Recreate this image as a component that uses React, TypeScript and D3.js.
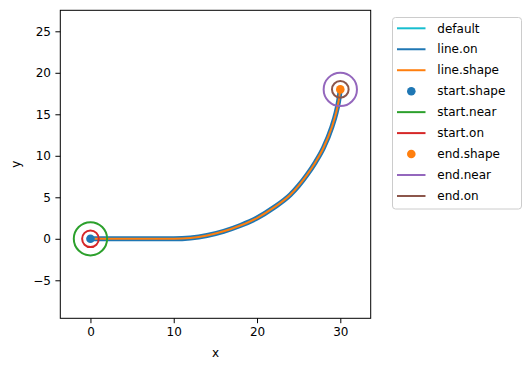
import React, { useEffect, useRef } from 'react';
import * as d3 from 'd3';

// path (x, y in data units)
const pathX = [0, 5, 10, 12, 14, 16, 18, 20, 22, 24, 25, 26, 27, 28, 29, 29.5, 29.8, 30];
const pathY = [0, 0, 0, 0.1, 0.4, 0.9, 1.6, 2.5, 3.75, 5.3, 6.4, 7.7, 9.2, 11.0, 13.5, 15.2, 16.6, 18.0];

const startPoint = [0, 0];
const endPoint = [30, 18];
const nearRadius = 2;
const onRadius = 1;

const xTicks = [0, 10, 20, 30];
const yTicks = [-5, 0, 5, 10, 15, 20, 25];

const legendLabels = ['default', 'line.on', 'line.shape', 'start.shape', 'start.near', 'start.on', 'end.shape', 'end.near', 'end.on'];
const legendKinds = ['line', 'line', 'line', 'dot', 'line', 'line', 'dot', 'line', 'line'];
const legendColors = ['#17becf', '#1f77b4', '#ff7f0e', '#1f77b4', '#2ca02c', '#d62728', '#ff7f0e', '#9467bd', '#8c564b'];

const W = 530;
const H = 371;
const FONT = 'DejaVu Sans, sans-serif';

export default function App() {
  const svgRef = useRef<SVGSVGElement>(null);

  useEffect(() => {
    if (!svgRef.current) return;
    const svg = d3.select(svgRef.current);
    svg.selectAll('*').remove();

    const plot = { left: 60.3, right: 370.7, top: 10.3, bottom: 318.3 };

    const x = d3.scaleLinear().domain([-3.62, 33.65]).range([plot.left, plot.right]);
    const y = d3.scaleLinear().domain([-9.58, 27.53]).range([plot.bottom, plot.top]);

    const pts = pathX.map((v, i) => [v, pathY[i]] as [number, number]);
    const line = d3.line<[number, number]>()
      .x(d => x(d[0]))
      .y(d => y(d[1]))
      .curve(d3.curveMonotoneX);

    const g = svg.append('g');

    // Lines
    g.append('path').attr('d', line(pts)).attr('fill', 'none')
      .attr('stroke', '#17becf').attr('stroke-width', 1.5);
    g.append('path').attr('d', line(pts)).attr('fill', 'none')
      .attr('stroke', '#1f77b4').attr('stroke-width', 5).attr('stroke-linecap', 'round');
    g.append('path').attr('d', line(pts)).attr('fill', 'none')
      .attr('stroke', '#ff7f0e').attr('stroke-width', 2);

    const pxPerUnit = x(1) - x(0);

    // start markers
    g.append('circle').attr('cx', x(startPoint[0])).attr('cy', y(startPoint[1])).attr('r', 4.3)
      .attr('fill', '#1f77b4');
    g.append('circle').attr('cx', x(startPoint[0])).attr('cy', y(startPoint[1])).attr('r', nearRadius * pxPerUnit)
      .attr('fill', 'none').attr('stroke', '#2ca02c').attr('stroke-width', 2);
    g.append('circle').attr('cx', x(startPoint[0])).attr('cy', y(startPoint[1])).attr('r', onRadius * pxPerUnit)
      .attr('fill', 'none').attr('stroke', '#d62728').attr('stroke-width', 2);

    // end markers
    g.append('circle').attr('cx', x(endPoint[0])).attr('cy', y(endPoint[1])).attr('r', 4.3)
      .attr('fill', '#ff7f0e');
    g.append('circle').attr('cx', x(endPoint[0])).attr('cy', y(endPoint[1])).attr('r', nearRadius * pxPerUnit)
      .attr('fill', 'none').attr('stroke', '#9467bd').attr('stroke-width', 2);
    g.append('circle').attr('cx', x(endPoint[0])).attr('cy', y(endPoint[1])).attr('r', onRadius * pxPerUnit)
      .attr('fill', 'none').attr('stroke', '#8c564b').attr('stroke-width', 2);

    // Frame
    svg.append('rect')
      .attr('x', plot.left).attr('y', plot.top)
      .attr('width', plot.right - plot.left).attr('height', plot.bottom - plot.top)
      .attr('fill', 'none').attr('stroke', '#000').attr('stroke-width', 1);

    // Axes
    const xAxis = svg.append('g')
      .attr('transform', `translate(0,${plot.bottom})`)
      .call(d3.axisBottom(x).tickValues(xTicks).tickSize(4.9).tickPadding(4.5).tickFormat(d3.format('d')));
    xAxis.select('.domain').remove();

    const yAxis = svg.append('g')
      .attr('transform', `translate(${plot.left},0)`)
      .call(d3.axisLeft(y).tickValues(yTicks).tickSize(4.9).tickPadding(4.5)
        .tickFormat(d => (+d < 0 ? '\u2212' + Math.abs(+d) : String(d))));
    yAxis.select('.domain').remove();

    svg.selectAll('.tick text')
      .style('font-family', FONT).style('font-size', '12px').attr('fill', '#000');
    svg.selectAll('.tick line').attr('stroke', '#000').attr('stroke-width', 1);

    // Axis titles
    svg.append('text')
      .attr('x', (plot.left + plot.right) / 2).attr('y', 357)
      .attr('text-anchor', 'middle')
      .style('font-family', FONT).style('font-size', '12px')
      .text('x');
    svg.append('text')
      .attr('transform', `translate(20,${(plot.top + plot.bottom) / 2}) rotate(-90)`)
      .attr('text-anchor', 'middle')
      .style('font-family', FONT).style('font-size', '12px')
      .text('y');

    // Legend
    const legend = svg.append('g');
    legend.append('rect')
      .attr('x', 392.5).attr('y', 17.5).attr('width', 129).attr('height', 191.5)
      .attr('rx', 3).attr('fill', '#fff').attr('fill-opacity', 0.8)
      .attr('stroke', '#cccccc').attr('stroke-width', 1);

    const rows = legend.selectAll('g.row')
      .data(legendLabels)
      .enter()
      .append('g')
      .attr('class', 'row')
      .attr('transform', (_d, i) => `translate(0,${28.3 + i * 20.96})`);

    rows.each(function (_d, i) {
      const r = d3.select(this);
      if (legendKinds[i] === 'line') {
        r.append('line').attr('x1', 397).attr('x2', 425.5).attr('y1', 0).attr('y2', 0)
          .attr('stroke', legendColors[i]).attr('stroke-width', 2);
      } else {
        r.append('circle').attr('cx', 411.3).attr('cy', 0).attr('r', 4.3)
          .attr('fill', legendColors[i]);
      }
    });

    rows.append('text')
      .attr('x', 437.3).attr('y', 0).attr('dy', '0.35em')
      .style('font-family', FONT).style('font-size', '12px')
      .attr('fill', '#000')
      .text(d => d);
  }, []);

  return (
    <svg
      ref={svgRef}
      width={W}
      height={H}
      viewBox={`0 0 ${W} ${H}`}
      style={{ position: 'absolute', left: 0, top: 0, background: '#fff' }}
    />
  );
}
